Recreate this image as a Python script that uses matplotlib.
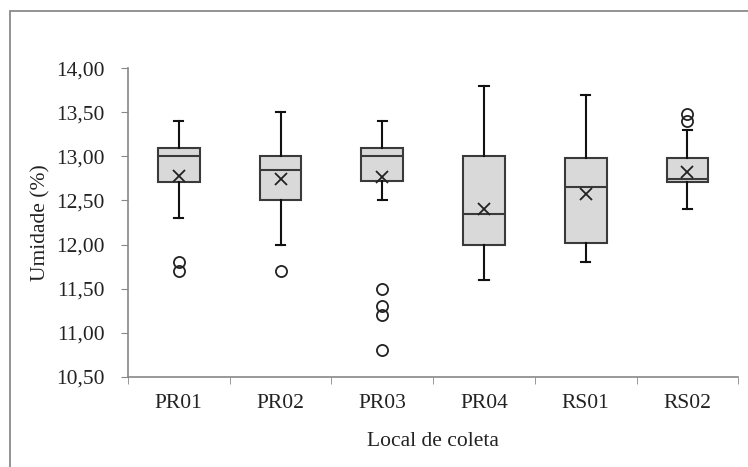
import matplotlib
matplotlib.use("Agg")
import matplotlib.pyplot as plt
from matplotlib.patches import Rectangle
from matplotlib.ticker import FuncFormatter, FixedLocator

# box plot values
locais = ["PR01", "PR02", "PR03", "PR04", "RS01", "RS02"]
whis_lo = [12.30, 12.00, 12.50, 11.60, 11.80, 12.40]
q1 = [12.71, 12.50, 12.72, 12.00, 12.02, 12.71]
mediana = [13.00, 12.85, 13.00, 12.35, 12.65, 12.74]
q3 = [13.09, 13.00, 13.10, 13.00, 12.98, 12.98]
whis_hi = [13.40, 13.50, 13.40, 13.80, 13.70, 13.30]
media = [12.78, 12.74, 12.77, 12.40, 12.57, 12.82]
outliers = [[11.80, 11.70], [11.70], [11.50, 11.30, 11.20, 10.80], [], [], [13.48, 13.40]]

plt.rcParams['font.family'] = ['Liberation Serif', 'DejaVu Serif']

fig = plt.figure(figsize=(7.48, 4.67), dpi=100)
ax = fig.add_axes([0.171, 0.193, 0.816, 0.661])

stats = []
for i in range(len(locais)):
    stats.append(dict(label=locais[i], whislo=whis_lo[i], q1=q1[i], med=mediana[i],
                      q3=q3[i], whishi=whis_hi[i], mean=media[i], fliers=outliers[i]))

ax.bxp(stats, positions=range(1, len(locais) + 1), widths=0.41, patch_artist=True,
       showmeans=True,
       boxprops=dict(facecolor='#d9d9d9', edgecolor='#3a3a3a', linewidth=1.5),
       medianprops=dict(color='#3a3a3a', linewidth=1.5),
       whiskerprops=dict(color='#111111', linewidth=1.5),
       capprops=dict(color='#111111', linewidth=1.5),
       capwidths=0.09,
       meanprops=dict(marker='x', markeredgecolor='#222222', markersize=9, markeredgewidth=1.3),
       flierprops=dict(marker='o', markerfacecolor='none', markeredgecolor='#222222',
                       markersize=8, markeredgewidth=1.3))

ax.set_xlim(0.5, len(locais) + 0.5)
ax.set_ylim(10.5, 14.0)
ax.set_yticks([10.5 + 0.5 * k for k in range(8)])
ax.yaxis.set_major_formatter(FuncFormatter(lambda v, p: f"{v:.2f}".replace('.', ',')))

ax.set_xticks(range(1, len(locais) + 1))
ax.set_xticklabels(locais)
ax.xaxis.set_minor_locator(FixedLocator([k + 0.5 for k in range(len(locais) + 1)]))
ax.tick_params(axis='x', which='major', length=0, pad=12, labelsize=15.5, colors='#222222')
ax.tick_params(axis='x', which='minor', length=5, direction='out', color='#888888')
ax.tick_params(axis='y', length=5, direction='out', color='#888888', pad=12,
               labelsize=15.5, labelcolor='#222222')

for s in ['top', 'right']:
    ax.spines[s].set_visible(False)
for s in ['left', 'bottom']:
    ax.spines[s].set_color('#888888')
    ax.spines[s].set_linewidth(1.2)

ax.set_xlabel("Local de coleta", fontsize=15.5, color='#222222', labelpad=14)
ax.set_ylabel("Umidade (%)", fontsize=15.5, color='#222222', labelpad=4)

# chart area border
fig.patches.append(Rectangle((10 / 748, -0.1), 1.2, 1.1 - 11 / 467,
                             transform=fig.transFigure, fill=False,
                             edgecolor='#8a8a8a', linewidth=1.3))

fig.savefig("out.png", dpi=100)
